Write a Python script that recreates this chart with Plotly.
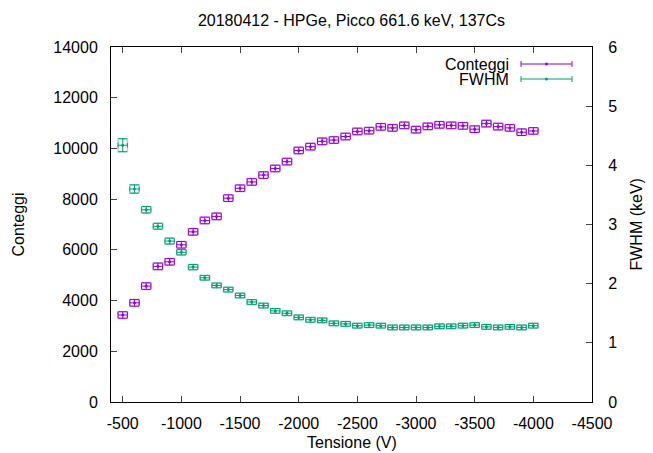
import plotly.graph_objects as go
import numpy as np

tensione = [-500, -600, -700, -800, -900, -1000, -1100, -1200, -1300, -1400,
            -1500, -1600, -1700, -1800, -1900, -2000, -2100, -2200, -2300, -2400,
            -2500, -2600, -2700, -2800, -2900, -3000, -3100, -3200, -3300, -3400,
            -3500, -3600, -3700, -3800, -3900, -4000]
err_tensione = [40] * len(tensione)

conteggi = [3430, 3910, 4570, 5350, 5530, 6200, 6710, 7160, 7320, 8040,
            8430, 8680, 8950, 9210, 9480, 9920, 10070, 10280, 10330, 10470,
            10670, 10700, 10850, 10810, 10910, 10740, 10870, 10930, 10910, 10890,
            10760, 10980, 10860, 10810, 10640, 10690]
err_conteggi = [130] * len(tensione)

fwhm = [4.34, 3.60, 3.25, 2.97, 2.72, 2.53, 2.28, 2.10, 1.97, 1.90,
        1.80, 1.69, 1.63, 1.54, 1.50, 1.43, 1.39, 1.38, 1.33, 1.32,
        1.29, 1.30, 1.29, 1.26, 1.26, 1.26, 1.26, 1.28, 1.28, 1.29,
        1.30, 1.27, 1.26, 1.27, 1.26, 1.29]
err_fwhm = [0.11, 0.07, 0.055, 0.05, 0.05, 0.045, 0.045, 0.04, 0.04, 0.04,
            0.04, 0.04, 0.04, 0.04, 0.04, 0.04, 0.04, 0.04, 0.04, 0.04,
            0.04, 0.04, 0.04, 0.04, 0.04, 0.04, 0.04, 0.04, 0.04, 0.04,
            0.04, 0.04, 0.04, 0.04, 0.04, 0.04]

x_ticks = [-500, -1000, -1500, -2000, -2500, -3000, -3500, -4000, -4500]
x_ticklabels = ["-500", "-1000", "-1500", "-2000", "-2500", "-3000", "-3500", "-4000", "-4500"]

PURPLE = "#9400D3"
GREEN = "#009E73"
FONT = "Liberation Sans, Arial, sans-serif"
FS = 16

W, H = 653, 453
PL, PR, PT, PB = 111, 592, 47, 402  # plot area in page pixels


def px(xp):
    return (xp - PL) / (PR - PL)


def py(yp):
    return (PB - yp) / (PB - PT)


def box_path(x, dx, y, dy):
    bx, by = [], []
    for xi, dxi, yi, dyi in zip(x, dx, y, dy):
        bx += [xi - dxi, xi + dxi, xi + dxi, xi - dxi, xi - dxi, None]
        by += [yi - dyi, yi - dyi, yi + dyi, yi + dyi, yi - dyi, None]
    return bx, by


fig = go.Figure()

# light boxes
bx, by = box_path(tensione, err_tensione, conteggi, err_conteggi)
fig.add_trace(go.Scatter(x=bx, y=by, mode="lines", line=dict(color=PURPLE, width=1.5),
                         opacity=0.35, showlegend=False, hoverinfo="skip"))
bx2, by2 = box_path(tensione, err_tensione, fwhm, err_fwhm)
fig.add_trace(go.Scatter(x=bx2, y=by2, mode="lines", line=dict(color=GREEN, width=1.5),
                         opacity=0.35, showlegend=False, hoverinfo="skip", yaxis="y2"))

fig.add_trace(go.Scatter(
    x=tensione, y=conteggi, mode="markers", name="Conteggi",
    marker=dict(color=PURPLE, size=3),
    error_x=dict(type="data", array=err_tensione, color=PURPLE, thickness=1, width=3),
    error_y=dict(type="data", array=err_conteggi, color=PURPLE, thickness=1, width=4.5),
    showlegend=False))

fig.add_trace(go.Scatter(
    x=tensione, y=fwhm, mode="markers", name="FWHM", yaxis="y2",
    marker=dict(color=GREEN, size=3),
    error_x=dict(type="data", array=err_tensione, color=GREEN, thickness=1, width=2.5),
    error_y=dict(type="data", array=err_fwhm, color=GREEN, thickness=1, width=4.5),
    showlegend=False))

# custom gnuplot-style legend
shapes = []
annotations = []
for label, color, yc in [("Conteggi", PURPLE, 64), ("FWHM", GREEN, 79)]:
    yp = py(yc)
    annotations.append(dict(text=label, x=px(511), y=yp, xref="paper", yref="paper",
                            xanchor="right", yanchor="middle", showarrow=False,
                            font=dict(size=FS, color="black", family=FONT)))
    shapes.append(dict(type="line", xref="paper", yref="paper", x0=px(521), x1=px(572),
                       y0=yp, y1=yp, line=dict(color=color, width=1)))
    for xc in (521, 572):
        shapes.append(dict(type="line", xref="paper", yref="paper", x0=px(xc), x1=px(xc),
                           y0=py(yc + 3), y1=py(yc - 3), line=dict(color=color, width=1)))
    shapes.append(dict(type="circle", xref="paper", yref="paper", xsizemode="pixel",
                       ysizemode="pixel", xanchor=px(546.5), yanchor=yp,
                       x0=-1.5, x1=1.5, y0=-1.5, y1=1.5,
                       fillcolor=color, line=dict(color=color, width=0)))

# axis titles (gnuplot-style placement)
annotations += [
    dict(text="Conteggi", x=px(18), y=py(224.5), xref="paper", yref="paper",
         xanchor="center", yanchor="middle", textangle=-90, showarrow=False,
         font=dict(size=FS, color="black", family=FONT)),
    dict(text="FWHM (keV)", x=px(636), y=py(224.5), xref="paper", yref="paper",
         xanchor="center", yanchor="middle", textangle=-90, showarrow=False,
         font=dict(size=FS, color="black", family=FONT)),
    dict(text="Tensione (V)", x=px(351.5), y=py(442), xref="paper", yref="paper",
         xanchor="center", yanchor="middle", showarrow=False,
         font=dict(size=FS, color="black", family=FONT)),
]

axis_common = dict(showline=True, linecolor="black", linewidth=1, ticks="inside",
                   ticklen=6, tickcolor="#444", showgrid=False, zeroline=False,
                   automargin=False,
                   tickfont=dict(size=FS, color="black", family=FONT))

fig.update_layout(
    width=W, height=H,
    margin=dict(l=PL, r=W - PR, t=PT, b=H - PB),
    paper_bgcolor="white", plot_bgcolor="white",
    title=dict(text="20180412 - HPGe, Picco 661.6 keV, 137Cs", x=351.5 / W, xanchor="center",
               xref="container", yref="container",
               y=1 - 20 / H, yanchor="middle", font=dict(size=FS, color="black", family=FONT),
               automargin=False),
    xaxis=dict(range=[-400, -4500], tickvals=x_ticks, ticktext=x_ticklabels,
               mirror="ticks", ticklabelstandoff=7, **axis_common),
    yaxis=dict(range=[0, 14000], dtick=2000, tickformat="d", ticklabelstandoff=9, **axis_common),
    yaxis2=dict(range=[0, 6], dtick=1, overlaying="y", side="right", ticklabelstandoff=12,
                **axis_common),
    shapes=shapes, annotations=annotations,
    showlegend=False,
)

fig.write_html("out.html", config={"displayModeBar": False},
               post_script="document.body.style.margin='0px';document.body.style.padding='0px';")
